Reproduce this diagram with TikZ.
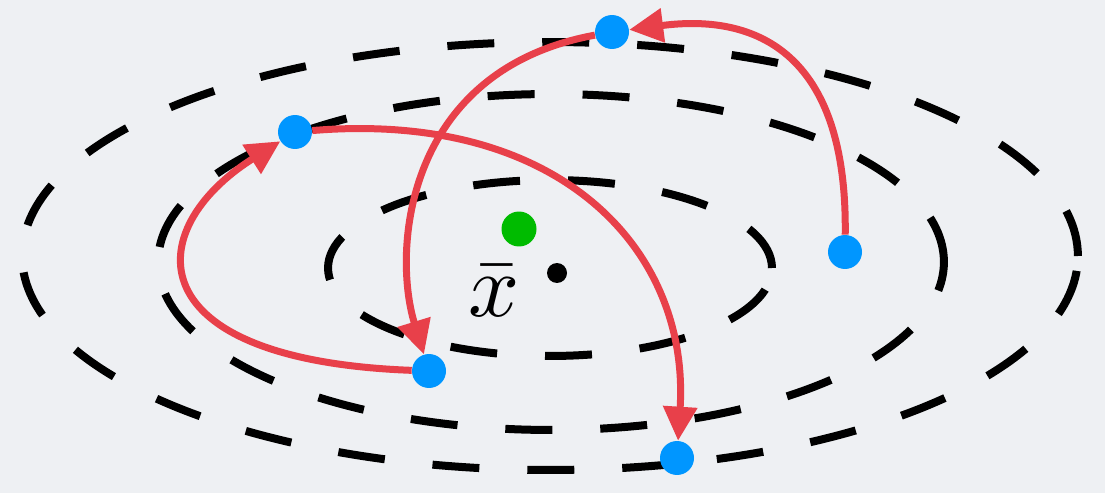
\documentclass[tikz,border=0pt]{standalone}
\usepackage{amsmath,amssymb}
\usepackage{xcolor}
\usepackage{tikz}
\usetikzlibrary{arrows.meta}

\definecolor{bgcol}{RGB}{238,240,243}
\definecolor{arrowred}{RGB}{232,64,74}
\definecolor{dotblue}{RGB}{0,150,255}
\definecolor{dotgreen}{RGB}{0,187,0}

\begin{document}
\begin{tikzpicture}[
  x=0.02cm, y=-0.02cm,
  level/.style={draw=black, line width=0.16cm, dash pattern=on 0.94cm off 0.96cm},
  sample/.style={circle, fill=dotblue, inner sep=0pt, minimum size=0.68cm},
  move/.style={-{Triangle[length=0.68cm,width=0.66cm]}, draw=arrowred, line width=0.14cm},
]

\fill[bgcol] (0,0) rectangle (1105,493);
\useasboundingbox (0,0) rectangle (1105,493);

% level sets
\draw[level] (550,256) ellipse [x radius=10.56cm, y radius=4.28cm];
\draw[level] (551,262) ellipse [x radius=7.86cm, y radius=3.36cm];
\draw[level] (550,268) ellipse [x radius=4.44cm, y radius=1.76cm];

\node[circle, fill=dotgreen, inner sep=0pt, minimum size=0.7cm] (est) at (519,229) {};
\node[circle, fill=black, inner sep=0pt, minimum size=0.4cm] (mean) at (557,273) {};
\node[inner sep=0pt, scale=5.1] (lbl) at (494,291) {$\bar{x}$};

\node[sample] (p1) at (845,252) {};
\node[sample] (p2) at (612,32) {};
\node[sample] (p3) at (429,371) {};
\node[sample] (p4) at (295,132) {};
\node[sample] (p5) at (677,458) {};

\draw[move] (p1) .. controls (848,20) and (720,18) .. (p2);
\draw[move] (p2) .. controls (405,70) and (392,250) .. (p3);
\draw[move] (p3) .. controls (135,360) and (140,230) .. (p4);
\draw[move] (p4) .. controls (560,110) and (690,250) .. (p5);

\end{tikzpicture}
\end{document}
